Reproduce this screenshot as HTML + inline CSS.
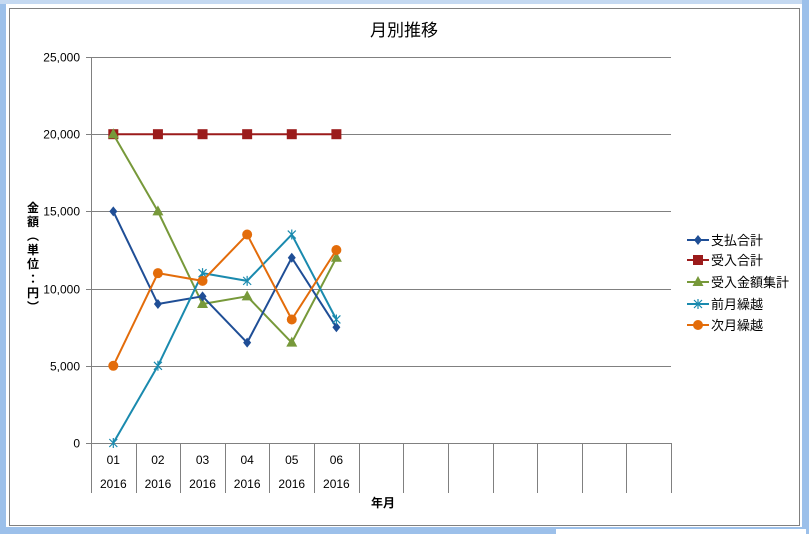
<!DOCTYPE html>
<html><head><meta charset="utf-8"><style>
body{margin:0;background:#fff;width:809px;height:534px;overflow:hidden}
svg{display:block}
text{font-family:"Liberation Sans","Noto Sans CJK JP",sans-serif}
</style></head><body>
<svg id="s" width="809" height="534" xmlns="http://www.w3.org/2000/svg">
<rect x="0" y="0" width="809" height="534" fill="#fff"/>
<rect x="0" y="0" width="6" height="534" fill="#9cc0ea"/>
<rect x="0" y="0" width="809" height="4" fill="#c5d9f1"/>
<rect x="802" y="0" width="7" height="534" fill="#9cc0ea"/>
<rect x="0" y="527" width="809" height="7" fill="#9cc0ea"/>
<rect x="556" y="529" width="250" height="5" fill="#fff"/>
<rect x="9.5" y="8.5" width="790" height="517" fill="#fff" stroke="#808080"/>
<text x="404" y="36" font-size="17" text-anchor="middle" fill="#000">月別推移</text>
<g id="grid" stroke="#808080" stroke-width="1"></g>
<g id="lbl" font-size="12" fill="#000"></g>
<text x="383" y="507" font-size="12" font-weight="bold" text-anchor="middle">年月</text>
<g font-size="12" font-weight="bold" text-anchor="middle">
<text x="33" y="212">金</text><text x="33" y="226">額</text><text x="33" y="240">︵</text><text x="33" y="254">単</text><text x="33" y="268">位</text><text x="33" y="283">：</text><text x="33" y="297">円</text><text x="33" y="311">︶</text>
</g>
<g id="ser"></g>
<g id="leg" font-size="13"></g>
</svg>
<script>
var NS="http://www.w3.org/2000/svg";
function el(p,t,a,txt){var e=document.createElementNS(NS,t);for(var k in a)e.setAttribute(k,a[k]);if(txt)e.textContent=txt;document.getElementById(p).appendChild(e);return e}
var x0=91,x1=671,w=(x1-x0)/13;
function Y(v){return 443-v*0.01544}
for(var i=0;i<=5;i++){var y=Math.round(Y(i*5000))+.5;el('grid','line',{x1:86,x2:671,y1:y,y2:y});
el('lbl','text',{x:80,y:y+4,'text-anchor':'end'},i==0?'0':(i*5)+',000');}
el('grid','line',{x1:x0+.5,x2:x0+.5,y1:57,y2:493});
for(var i=1;i<=13;i++){var x=Math.round(x0+i*w)+.5;el('grid','line',{x1:x,x2:x,y1:443,y2:493});}
for(var i=0;i<6;i++){var cx=x0+w*(i+.5);el('lbl','text',{x:cx,y:464,'text-anchor':'middle'},'0'+(i+1));el('lbl','text',{x:cx,y:488,'text-anchor':'middle'},'2016');}
var S=[
['受入合計','#9b1b1b','sq',[20000,20000,20000,20000,20000,20000]],
['受入金額集計','#77993a','tri',[20000,15000,9000,9500,6500,12000]],
['支払合計','#1f4e96','dia',[15000,9000,9500,6500,12000,7500]],
['前月繰越','#1a8aae','star',[0,5000,11000,10500,13500,8000]],
['次月繰越','#e36c0a','cir',[5000,11000,10500,13500,8000,12500]]];
function mk(g,t,c,x,y){
if(t=='sq')el(g,'rect',{x:x-5,y:y-5,width:10,height:10,fill:c});
else if(t=='tri')el(g,'polygon',{points:(x)+','+(y-6)+' '+(x+5.5)+','+(y+4)+' '+(x-5.5)+','+(y+4),fill:c});
else if(t=='dia')el(g,'polygon',{points:x+','+(y-5)+' '+(x+4)+','+y+' '+x+','+(y+5)+' '+(x-4)+','+y,fill:c});
else if(t=='cir')el(g,'circle',{cx:x,cy:y,r:5,fill:c});
else{el(g,'path',{d:'M'+(x-4)+' '+(y-4)+'L'+(x+4)+' '+(y+4)+'M'+(x-4)+' '+(y+4)+'L'+(x+4)+' '+(y-4)+'M'+x+' '+(y-5)+'L'+x+' '+(y+5),stroke:c,'stroke-width':1.2});}
}
S.forEach(function(sr){var pts=sr[3].map(function(v,i){return [x0+w*(i+.5),Y(v)]});
el('ser','polyline',{points:pts.map(function(p){return p.join(',')}).join(' '),fill:'none',stroke:sr[1],'stroke-width':2});
pts.forEach(function(p){mk('ser',sr[2],sr[1],p[0],p[1])});});
var L=[[2,240],[0,260],[1,282],[3,304],[4,325]];
L.forEach(function(l){var sr=S[l[0]],y=l[1];el('leg','line',{x1:687,x2:709,y1:y,y2:y,stroke:sr[1],'stroke-width':2});mk('leg',sr[2],sr[1],698,y);
el('leg','text',{x:711,y:y+5},sr[0]);});
</script>
</body></html>
